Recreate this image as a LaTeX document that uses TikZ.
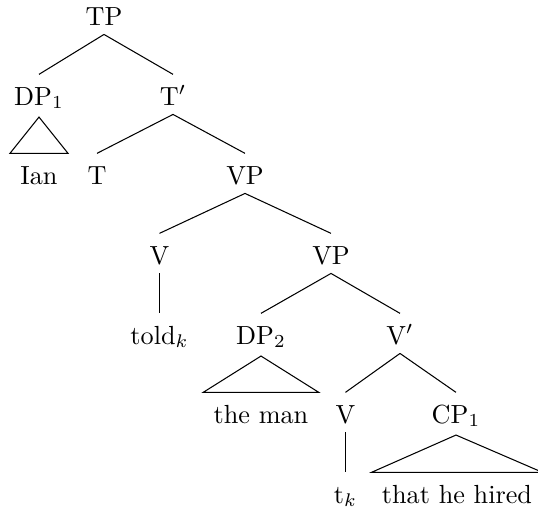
\documentclass[tikz,border=0pt]{standalone}
\usepackage{amsmath,amssymb}
\usepackage{tikz}
\usetikzlibrary{positioning}

\begin{document}
\begin{tikzpicture}[
    x=0.3817pt, y=-0.3817pt,
    cat/.style={inner sep=2pt, text height=9.5pt, text depth=1.4pt, anchor=base},
    roof/.style={cat, inner xsep=3.8pt},
    line/.style={draw, line width=0.4pt},
]
\useasboundingbox (0,0) rectangle (538,509);
% categories, one row per level
\node [cat] (tp) at (104,25) {TP};
\node [cat] (dp1) at (39,105) {DP$_1$};
\node [cat] (tbar) at (173,105) {T$'$};
\node [roof] (ian) at (39,184) {Ian};
\node [cat] (t) at (97,184) {T};
\node [cat] (vp1) at (245,184) {VP};
\node [cat] (v1) at (159.5,264) {V};
\node [cat] (vp2) at (331,264) {VP};
\node [cat] (told) at (159.5,344) {told$_k$};
\node [cat] (dp2) at (261,344) {DP$_2$};
\node [cat] (vbar) at (400,344) {V$'$};
\node [roof] (man) at (261,423) {the man};
\node [cat] (v2) at (345.5,423) {V};
\node [cat] (cp1) at (456,423) {CP$_1$};
\node [cat] (trace) at (345.5,503) {t$_k$};
\node [roof] (hired) at (457,503) {that he hired};

% branches
\path [line] (tp.south) -- (dp1.north);
\path [line] (tp.south) -- (tbar.north);
\path [line] (tbar.south) -- (t.north);
\path [line] (tbar.south) -- (vp1.north);
\path [line] (vp1.south) -- (v1.north);
\path [line] (vp1.south) -- (vp2.north);
\path [line] (v1.south) -- (told.north);
\path [line] (vp2.south) -- (dp2.north);
\path [line] (vp2.south) -- (vbar.north);
\path [line] (vbar.south) -- (v2.north);
\path [line] (vbar.south) -- (cp1.north);
\path [line] (v2.south) -- (trace.north);

% triangles
\path [line] ([yshift=-1pt]dp1.south) -- (ian.north west) -- (ian.north east) -- cycle;
\path [line] ([yshift=-1pt]dp2.south) -- (man.north west) -- (man.north east) -- cycle;
\path [line] ([yshift=-1pt]cp1.south) -- (hired.north west) -- (hired.north east) -- cycle;
\end{tikzpicture}
\end{document}
